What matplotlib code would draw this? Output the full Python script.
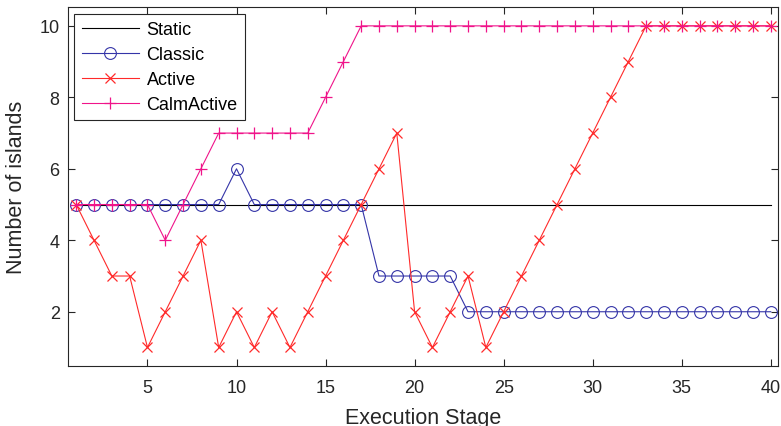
import matplotlib
matplotlib.use("Agg")
import matplotlib.pyplot as plt
import numpy as np

plt.rcParams['font.family'] = ['Liberation Sans', 'DejaVu Sans']

# island counts per execution stage
stages = list(range(1, 41))
static = [5] * 40
classic = [5, 5, 5, 5, 5, 5, 5, 5, 5, 6, 5, 5, 5, 5, 5, 5, 5, 3, 3, 3,
           3, 3, 2, 2, 2, 2, 2, 2, 2, 2, 2, 2, 2, 2, 2, 2, 2, 2, 2, 2]
active = [5, 4, 3, 3, 1, 2, 3, 4, 1, 2, 1, 2, 1, 2, 3, 4, 5, 6, 7, 2,
          1, 2, 3, 1, 2, 3, 4, 5, 6, 7, 8, 9, 10, 10, 10, 10, 10, 10, 10, 10]
calm_active = [5, 5, 5, 5, 5, 4, 5, 6, 7, 7, 7, 7, 7, 7, 8, 9, 10, 10, 10, 10,
               10, 10, 10, 10, 10, 10, 10, 10, 10, 10, 10, 10, 10, 10, 10, 10, 10, 10, 10, 10]

fig = plt.figure(figsize=(7.81, 4.27), dpi=100)
ax = fig.add_axes([0.0871, 0.1412, 0.9094, 0.8394])

lw = 0.8
ax.plot(stages, static, color="black", lw=lw, label="Static")
ax.plot(stages, classic, color="#3535a8", lw=lw, marker="o", ms=8.5,
        mfc="none", mew=0.8, label="Classic")
ax.plot(stages, active, color="#ff2a2a", lw=lw, marker="x", ms=7,
        mew=0.9, label="Active")
ax.plot(stages, calm_active, color="#f0148a", lw=lw, marker="+", ms=9,
        mew=0.9, label="CalmActive")

ax.set_xlim(0.54, 40.42)
ax.set_ylim(0.49, 10.52)
ax.set_xticks([5, 10, 15, 20, 25, 30, 35, 40])
ax.set_yticks([2, 4, 6, 8, 10])

ax.tick_params(direction="in", top=True, right=True, length=5, width=0.8,
               labelsize=13, colors="#262626", pad=6)
ax.tick_params(axis="x", pad=9.5)
for sp in ax.spines.values():
    sp.set_color("#262626")
    sp.set_linewidth(0.8)

ax.set_xlabel("Execution Stage", fontsize=15.5, color="#262626", labelpad=8)
ax.set_ylabel("Number of islands", fontsize=15.5, color="#262626", labelpad=9)

leg = ax.legend(loc="upper left", fontsize=13, fancybox=False,
                edgecolor="#262626", framealpha=1, borderaxespad=0.35,
                handlelength=3.2, labelspacing=0.45, borderpad=0.4,
                handletextpad=0.4)
leg.get_frame().set_linewidth(0.8)

fig.savefig("out.png", dpi=100)
